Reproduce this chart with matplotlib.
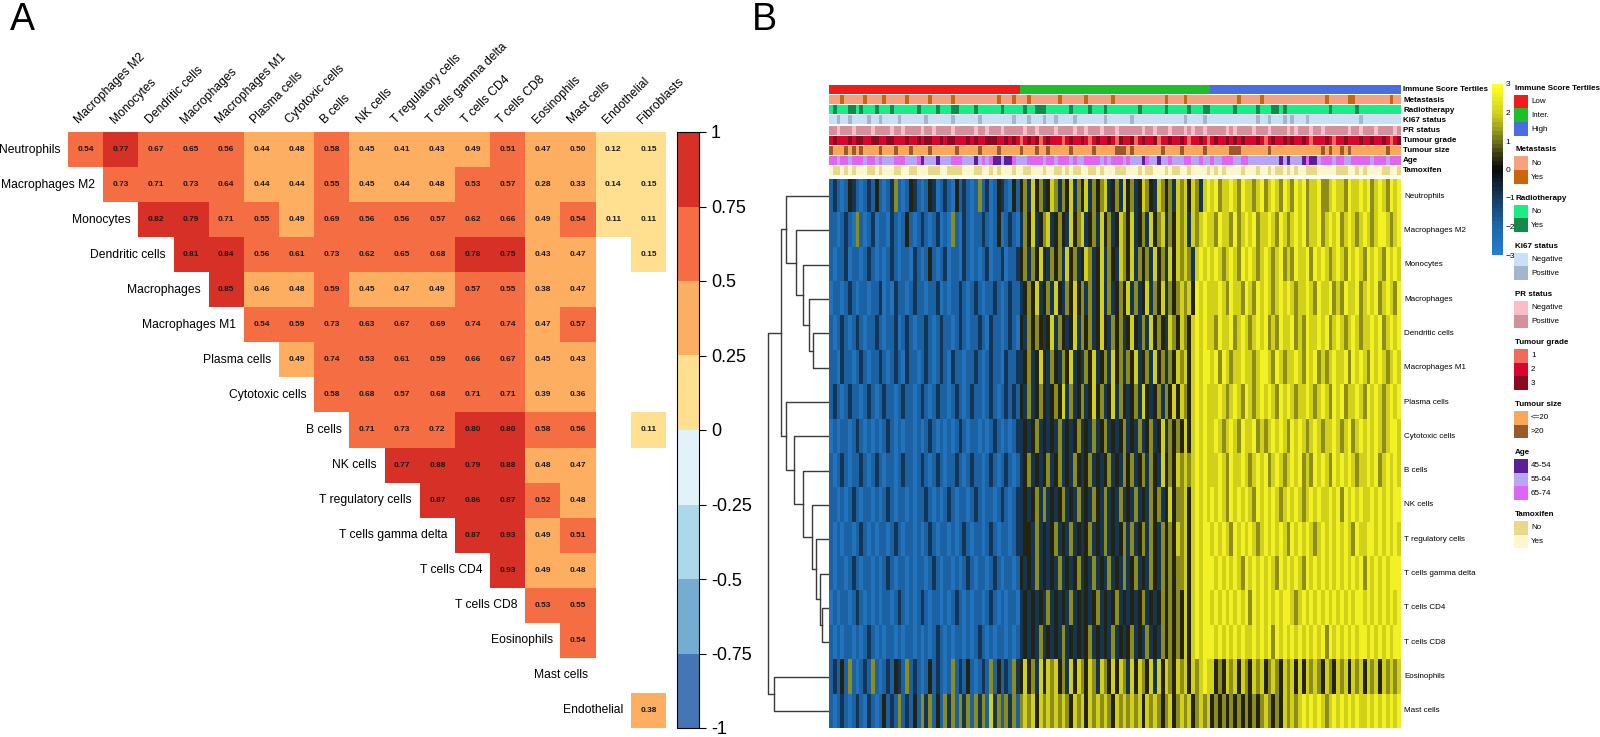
import numpy as np
import matplotlib
matplotlib.use("Agg")
import matplotlib.pyplot as plt
from matplotlib.colors import ListedColormap, BoundaryNorm, LinearSegmentedColormap, Normalize, to_rgb
from matplotlib.cm import ScalarMappable
from matplotlib.patches import Rectangle

plt.rcParams['font.family'] = ['Liberation Sans', 'DejaVu Sans']

# ---------------- panel A data ----------------
row_names = ['Neutrophils', 'Macrophages M2', 'Monocytes', 'Dendritic cells', 'Macrophages',
             'Macrophages M1', 'Plasma cells', 'Cytotoxic cells', 'B cells', 'NK cells',
             'T regulatory cells', 'T cells gamma delta', 'T cells CD4', 'T cells CD8',
             'Eosinophils', 'Mast cells', 'Endothelial']
col_names = ['Macrophages M2', 'Monocytes', 'Dendritic cells', 'Macrophages', 'Macrophages M1',
             'Plasma cells', 'Cytotoxic cells', 'B cells', 'NK cells', 'T regulatory cells',
             'T cells gamma delta', 'T cells CD4', 'T cells CD8', 'Eosinophils', 'Mast cells',
             'Endothelial', 'Fibroblasts']
# upper triangle, row i starts at column i; None = not significant (blank)
corr_rows = [
    [0.54, 0.77, 0.67, 0.65, 0.56, 0.44, 0.48, 0.58, 0.45, 0.41, 0.43, 0.49, 0.51, 0.47, 0.497, 0.12, 0.15],
    [0.73, 0.71, 0.73, 0.64, 0.44, 0.44, 0.55, 0.45, 0.44, 0.48, 0.53, 0.57, 0.28, 0.33, 0.14, 0.15],
    [0.82, 0.79, 0.71, 0.55, 0.49, 0.69, 0.56, 0.56, 0.57, 0.62, 0.66, 0.49, 0.54, 0.11, 0.11],
    [0.81, 0.84, 0.56, 0.61, 0.73, 0.62, 0.65, 0.68, 0.78, 0.752, 0.43, 0.47, None, 0.15],
    [0.85, 0.46, 0.48, 0.59, 0.45, 0.47, 0.49, 0.57, 0.55, 0.38, 0.47, None, None],
    [0.54, 0.59, 0.73, 0.63, 0.67, 0.69, 0.74, 0.74, 0.47, 0.57, None, None],
    [0.49, 0.74, 0.53, 0.61, 0.59, 0.66, 0.67, 0.45, 0.43, None, None],
    [0.58, 0.68, 0.57, 0.68, 0.71, 0.71, 0.39, 0.36, None, None],
    [0.71, 0.73, 0.72, 0.80, 0.80, 0.58, 0.56, None, 0.11],
    [0.77, 0.88, 0.79, 0.88, 0.48, 0.47, None, None],
    [0.87, 0.86, 0.87, 0.52, 0.48, None, None],
    [0.87, 0.93, 0.49, 0.51, None, None],
    [0.93, 0.49, 0.48, None, None],
    [0.53, 0.55, None, None],
    [0.54, None, None],
    [None, None],
    [0.38],
]
corr_colors = ['#4575b4', '#74add1', '#abd9e9', '#e0f3f8', '#fee090', '#fdae61', '#f46d43', '#d73027']
corr_ticks = [-1, -0.75, -0.5, -0.25, 0, 0.25, 0.5, 0.75, 1]

# ---------------- panel B data ----------------
cell_types = ['Neutrophils', 'Macrophages M2', 'Monocytes', 'Macrophages', 'Dendritic cells',
              'Macrophages M1', 'Plasma cells', 'Cytotoxic cells', 'B cells', 'NK cells',
              'T regulatory cells', 'T cells gamma delta', 'T cells CD4', 'T cells CD8',
              'Eosinophils', 'Mast cells']
# z-score level per code digit 0..6
levels = [-2.6, -1.9, -0.9, 0.3, 1.3, 2.0, 2.7]
# one string per cell type, samples ordered Low | Inter. | High tertile (50 each)
heat_rows = [
    "1210132101 2131012410 1321013201 2103121014 1201321031 3425342354 2435243524 3452342534 2354325434 2545354256 5645565465 5456456546 5465645564 4565546556 5645654656",
    "1101210410 1201102101 3101210120 1041021011 2101301210 2435234523 4325345234 2534235435 2342534524 3545254565 5465546456 5645565465 4565645564 5656456545 6545665456",
    "1011201101 2101012101 1021013101 2011021010 1201120112 3424353243 4253423542 3524325435 2434253425 3545425656 5654565465 6545654564 5465564656 5456546565 4656546565",
    "0110121011 0112010211 0121101120 1011210121 0112101211 2343523425 3243534242 3524234352 4235243524 3454536565 5565465546 5465654565 6545565465 5645465564 5656456546",
    "1012101210 1121011201 2101121012 1101210112 1021101210 3243432352 4323524342 3532434235 3242534325 4354356565 5465564565 4565645465 5645465565 6456545654 5565645656",
    "1102110121 0112101210 2110121012 1021101121 0121102112 2342353243 2435232435 2342534243 5234253424 3545356566 5646545565 5456654654 5565465645 4565564656 5465654565",
    "1210121101 2101211012 1101210121 1012101211 0121012121 3242343234 3524234235 3423524323 4253234243 5354356565 5565456546 5456565465 6545565456 5465645565 4656545656",
    "0101101210 1010121010 1101012101 0101210110 1012101012 2323423232 4232342324 2342323423 2423423524 3435356565 5654565465 5645456565 4656545654 5565456456 5656545665",
    "1012101121 0121011012 1101210121 0112101211 0121012101 2342323423 4232432342 3234232434 2342432534 3545456565 5565465565 4565645654 5656454656 5465656545 5656456565",
    "1101012101 1010121011 0101121010 1210110121 0110121012 2323424232 3423242324 3242324232 4232434235 3445356565 6565465656 5465656545 6565456565 5656465656 5565656566",
    "1010110121 0101101210 1101012101 1010121011 0121011012 2332423234 2324232342 3242323424 2342432434 3545356566 5656546565 6545656565 4656565456 5656565465 5665656565",
    "1011012101 1010121011 0101101210 1101012101 1012101101 3232423232 4232342324 2324232423 4232432434 3445356566 6565656546 5656565465 6565465656 5656565656 4656565666",
    "0101101210 1010110121 0101210110 1012101011 0121010110 2323232423 2324232323 4232342323 2342323434 3435356566 5656565656 4656565656 6545656565 6565656566 5656565656",
    "1010110101 2101011010 1101010121 0101101012 1010110101 2323242323 2423232342 3232423234 2324232434 3435356566 6565656565 5656564656 5656565656 4656565656 6565656566",
    "1213141012 1410121321 4121013121 0141213101 2141312142 3534253545 3425354354 2543535425 3543525354 3545354565 5343545354 3545345435 4535354543 5435453545 3545354545",
    "1012101210 2101312141 2131424131 4241424142 4152414241 4545354545 4543545354 5454354545 4535454345 3454534545 3434343434 3434543435 4545656565 4565656565 5656565656",
]
tertile_counts = [50, 50, 50]
metastasis = "nnnynnnnny nnnnynnnnn ynnnnnynnn nnynnnnnnn nnnnynnnyn nnynnnnnnn ynnnnnnynn nnnnynnnnn nnnnnnnnyn nnnynnnnnn nnnnnnnynn nnnynnnnnn nnnnnnnnnn ynnnnnyynn nnnnnnnynn"
radiotherapy = "nynnnyynyn nnynnnynnn nnnynnnnyn nnyynnnnyn nnnnnynnnn nynnyyynnn nnnynnnnyn nnynnnnnnn nynnnnnnyn nnnnynnnyy nnnnnnynnn nnynnnyyny nnnnnnnnnn nynnnnnnyn nnnnnnnnnn"
ki67 = "nnpnnpnnnn pnnpnnnnpn nnnnnpnnnn nnpnnnnnnp nnnnnnnnpn nnpnnnpnnp nnnnpnnnnn nnpnnnnnnp nnnnnnnnnn nnnpnnnnpn nnnnnnnnnn nnpnnpnnnp npnnnpnnnn nnnnnnnnnp nnnnnnnnnn"
pr_status = "ppnpppnppp pnppppnppn ppppnppnpp ppnpppppnp pnpppnpppp pnppnppppn ppppnppnpp pnpppnpppp ppnppnpppn pppnpnppnp ppppnpnppp pnpppnpppp npnpppnppn ppppppnppn pppnppppnp"
grade = "2322232332 2332233222 3223233223 2332223232 2333223232 1232312322 2123223212 3223213223 1232231223 2232122321 2322323232 2232123223 2322321222 3212232223 2232232123"
tumour_size = "lssslslsls ssslssslss slsssslsss ssslsssssl sssslsssss lssslsslss ssslsssssl ssssslllsl ssssssslss sslsssssls ssssslllss ssssslssss sssssssssl slsslslsss sssssslsss"
age = "ccbccbcccb ccbcbbbccc bbbcabbbab bbcccbbbab cbcaabaacb bbccccbccb cccbcbbccc cbcbcccbcb bbacbbabbc bbbccbbcbb cbbcccbbcc bbbbbbbbab abbbacaabc ccbccbbccc ccbcccbccc"
tamoxifen = "ynnynynyyy nnynyyynny ynnyyynnny ynnnnyyynn yynynyyyny ynnyyynyyn nynynnyynn ynyyynnnyy ynynnyyyny nnyynyyyyn ynynyyyyny yynyynynny nynyynnnyy yyynnnyyny nyyyynnyyn"
immune = "L" * tertile_counts[0] + "I" * tertile_counts[1] + "H" * tertile_counts[2]

# (track name, sample codes, code -> (legend label, colour))
tracks = [
    ("Immune Score Tertiles", immune, [("L", "Low", "#ee1c1c"), ("I", "Inter.", "#1fbf2a"), ("H", "High", "#4a6ee0")]),
    ("Metastasis", metastasis, [("n", "No", "#f7a27e"), ("y", "Yes", "#c8660c")]),
    ("Radiotherapy", radiotherapy, [("n", "No", "#18ee84"), ("y", "Yes", "#128a4a")]),
    ("Ki67 status", ki67, [("n", "Negative", "#c9e0f6"), ("p", "Positive", "#a4b6cd")]),
    ("PR status", pr_status, [("n", "Negative", "#f9bcc8"), ("p", "Positive", "#d5919b")]),
    ("Tumour grade", grade, [("1", "1", "#f26a5c"), ("2", "2", "#d8062c"), ("3", "3", "#8a0b20")]),
    ("Tumour size", tumour_size, [("s", "<=20", "#f8a85a"), ("l", ">20", "#9a5a2a")]),
    ("Age", age, [("a", "45-54", "#5b1f96"), ("b", "55-64", "#b8a6f5"), ("c", "65-74", "#df66ef")]),
    ("Tamoxifen", tamoxifen, [("n", "No", "#e8d98a"), ("y", "Yes", "#fdf8cb")]),
]
# row dendrogram merges: (left node, right node, height); leaves 0..15, new nodes 16..
merges = [(4, 5, 47), (3, 16, 60), (2, 17, 77), (1, 18, 97), (0, 19, 127),
          (12, 13, 22), (11, 21, 27), (10, 22, 39), (9, 23, 52), (8, 24, 79),
          (7, 25, 104), (6, 26, 127), (20, 27, 142), (14, 15, 165), (28, 29, 182)]

# ---------------- figure ----------------
W, H = 1600, 737
fig = plt.figure(figsize=(16, 7.37), dpi=100)


def px_box(x0, y0, x1, y1):
    return [x0 / W, 1 - y1 / H, (x1 - x0) / W, (y1 - y0) / H]


overlay = fig.add_axes([0, 0, 1, 1])
overlay.set_xlim(0, W)
overlay.set_ylim(H, 0)
overlay.axis('off')

overlay.text(10, 2, 'A', fontsize=27, va='top', ha='left')
overlay.text(752, 2, 'B', fontsize=27, va='top', ha='left')

# ---- panel A: correlation matrix
n = len(row_names)
mat = np.full((n, n), np.nan)
for i, row in enumerate(corr_rows):
    for k, v in enumerate(row):
        if v is not None:
            mat[i, i + k] = v

cmapA = ListedColormap(corr_colors)
normA = BoundaryNorm(np.linspace(-1, 1, 9), cmapA.N)

ax = fig.add_axes(px_box(68, 132, 666, 728))
ax.pcolormesh(np.arange(n + 1), np.arange(n + 1), np.ma.masked_invalid(mat), cmap=cmapA, norm=normA)
ax.set_xlim(0, n)
ax.set_ylim(n, 0)
ax.axis('off')
for i in range(n):
    for j in range(n):
        if not np.isnan(mat[i, j]):
            ax.text(j + 0.5, i + 0.5, f"{mat[i, j]:.2f}", ha='center', va='center',
                    fontsize=6, fontweight='bold', color='#1a1a1a')
    ax.text(i - 0.22, i + 0.5, row_names[i], ha='right', va='center', fontsize=8.7, clip_on=False)
for j, name in enumerate(col_names):
    ax.text(j + 0.38, -0.18, name, rotation=45, rotation_mode='anchor', ha='left', va='bottom',
            fontsize=8.7, clip_on=False)

caxA = fig.add_axes(px_box(677, 132, 699, 728))
cbA = fig.colorbar(ScalarMappable(norm=normA, cmap=cmapA), cax=caxA, ticks=corr_ticks)
cbA.ax.set_yticklabels(['-1', '-0.75', '-0.5', '-0.25', '0', '0.25', '0.5', '0.75', '1'])
cbA.ax.tick_params(labelsize=13, length=5, width=0.8)
cbA.outline.set_linewidth(0.8)

# ---- panel B: annotation tracks
N = len(immune)
tax = fig.add_axes(px_box(829, 85, 1400, 176))
for t, (tname, codes, cats) in enumerate(tracks):
    s = "".join(codes.split())
    lut = {c: to_rgb(col) for c, _, col in cats}
    rgb = np.array([[lut[c] for c in s]])
    tax.imshow(rgb, extent=[0, N, t + 0.9, t + 0.08], aspect='auto', interpolation='nearest')
    overlay.text(1403, 85 + (t + 0.49) * 91 / 9, tname, fontsize=5.8, fontweight='bold',
                 ha='left', va='center')
tax.set_xlim(0, N)
tax.set_ylim(len(tracks), 0)
tax.axis('off')

# ---- panel B: heatmap
cmapB = LinearSegmentedColormap.from_list('immune', [
    (0.0, '#247dcf'), (0.17, '#1d64a6'), (0.33, '#163b60'), (0.5, '#0a0a0a'),
    (0.6, '#3f3f16'), (0.68, '#77771f'), (0.83, '#d0d01c'), (1.0, '#ffff26')])
codes = np.array([[int(c) for c in "".join(r.split())] for r in heat_rows])
vals = np.array(levels)[codes]
hax = fig.add_axes(px_box(829, 179, 1400, 728))
hax.imshow(vals, aspect='auto', cmap=cmapB, vmin=-3, vmax=3, interpolation='nearest')
hax.axis('off')
row_h = (728 - 179) / len(cell_types)
for i, name in enumerate(cell_types):
    overlay.text(1404, 179 + (i + 0.5) * row_h, name, fontsize=5.8, ha='left', va='center')

# ---- panel B: row dendrogram
dax = fig.add_axes(px_box(767, 179, 829, 728))
pos = {i: (i + 0.5, 0.0) for i in range(len(cell_types))}
for k, (a, b, h) in enumerate(merges):
    ya, xa = pos[a]
    yb, xb = pos[b]
    dax.plot([xa, h, h, xb], [ya, ya, yb, yb], color='#3a3a3a', lw=1)
    pos[len(cell_types) + k] = ((ya + yb) / 2, h)
dax.set_xlim(185, 0)
dax.set_ylim(len(cell_types), 0)
dax.axis('off')

# ---- panel B: colour key and legends
caxB = fig.add_axes(px_box(1492, 84, 1503, 255))
cbB = fig.colorbar(ScalarMappable(norm=Normalize(-3, 3), cmap=cmapB.resampled(40)), cax=caxB,
                   ticks=range(-3, 4))
cbB.outline.set_visible(False)
cbB.ax.tick_params(length=0, labelsize=6, pad=2)

y = 88
sw_h = 13.8
for tname, _, cats in tracks:
    overlay.text(1515, y, tname, fontsize=5.8, fontweight='bold', ha='left', va='center')
    y0 = y + 6.5
    for k, (_, lab, col) in enumerate(cats):
        overlay.add_patch(Rectangle((1514, y0 + k * sw_h), 14, sw_h, facecolor=col, edgecolor='none'))
        overlay.text(1531, y0 + (k + 0.5) * sw_h, lab, fontsize=5.8, ha='left', va='center')
    y = y0 + len(cats) * sw_h + 14

fig.savefig("out.png", dpi=100)
